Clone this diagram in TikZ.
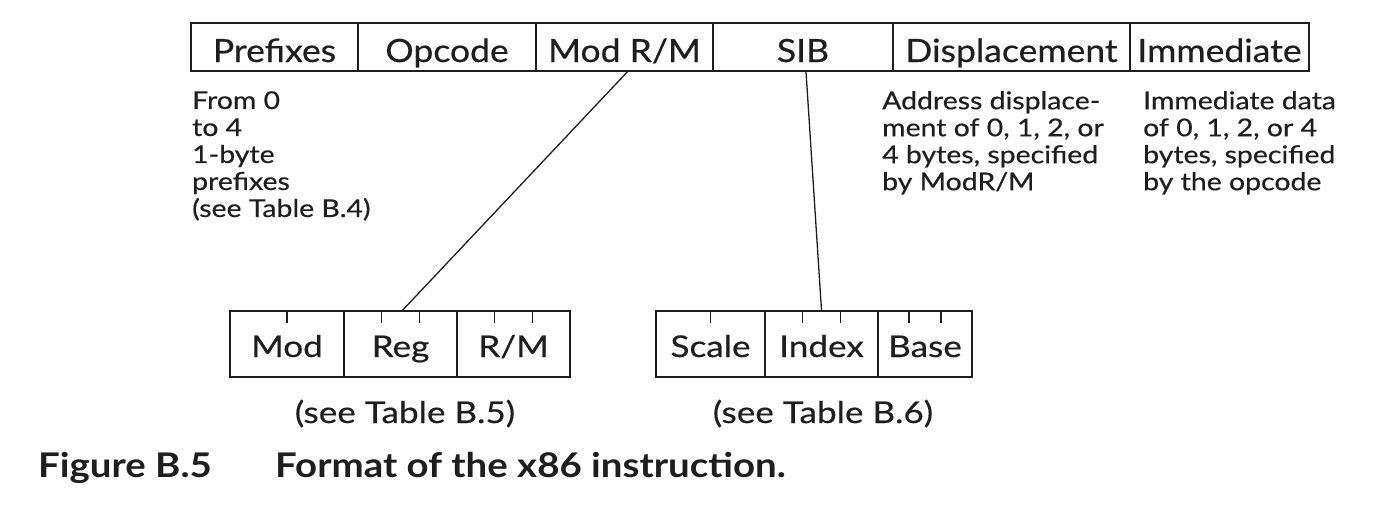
\documentclass[tikz,border=0pt]{standalone}
\usepackage{fontspec}
\setmainfont{Lato}
\newfontfamily\fieldfont{Lato}[FakeStretch=1.11, FakeBold=0.5]
\newfontfamily\notefont{Lato}[FakeStretch=1.16, FakeBold=0.5]
\newfontfamily\subfont{Lato}[FakeStretch=1.17, FakeBold=0.5]
\newfontfamily\capfont{Lato}[FakeStretch=1.13]
\usetikzlibrary{calc}
\definecolor{ink}{HTML}{1E1E1E}
\tikzset{
  field/.style={draw=ink, line width=1.4pt, minimum height=48pt, inner sep=0pt,
    text height=30pt, text depth=0pt, font=\fieldfont\fontsize{32}{38}\selectfont, text=ink},
  subfield/.style={draw=ink, line width=1.4pt, minimum height=66pt, inner sep=0pt,
    text height=26pt, text depth=0pt, font=\subfont\fontsize{30}{36}\selectfont, text=ink},
  note/.style={align=left, inner sep=0pt, anchor=north west, text=ink,
    font=\notefont\fontsize{24.5}{27}\selectfont},
  seetab/.style={inner sep=0pt, anchor=base, text=ink, font=\subfont\fontsize{30}{36}\selectfont},
  conn/.style={draw=ink, line width=1.3pt},
  bittick/.style={draw=ink, line width=1.3pt},
  captext/.style={inner sep=0pt, anchor=base west, text=ink, font=\capfont\bfseries\fontsize{34}{40}\selectfont}
}
\begin{document}
\begin{tikzpicture}[x=1pt,y=-1pt]
\useasboundingbox (0,0) rectangle (1376,514);
% top instruction format
\node[field, minimum width=167pt] (pre) at (274.5,47) {Prefixes};
\node[field, minimum width=178pt] (opc) at (447,47) {Opcode};
\node[field, minimum width=177pt] (modrm) at (624.5,47) {Mod R/M};
\node[field, minimum width=180pt] (sib) at (803,47) {SIB};
\node[field, minimum width=237pt] (disp) at (1011.5,47) {Displacement};
\node[field, minimum width=179pt] (imm) at (1219.5,47) {Immediate};
% notes
\node[note] (n1) at (192,91) {From 0\\to 4\\1-byte\\prefixes\\(see Table B.4)};
\node[note] (n2) at (882,91) {Address displace-\\ment of 0, 1, 2, or\\4 bytes, specified\\by ModR/M};
\node[note] (n3) at (1143,91) {Immediate data\\of 0, 1, 2, or 4\\bytes, specified\\by the opcode};
% ModR/M byte
\node[subfield, minimum width=114pt] (mod) at (287,344) {Mod};
\node[subfield, minimum width=113pt] (reg) at (400.5,344) {Reg};
\node[subfield, minimum width=113pt] (rm) at (513.5,344) {R/M};
% SIB byte
\node[subfield, minimum width=109pt] (scale) at (710.5,344) {Scale};
\node[subfield, minimum width=113pt] (index) at (821.5,344) {Index};
\node[subfield, minimum width=94pt] (base) at (925,344) {Base};
% bit ticks
\foreach \n/\f in {mod/0.5, reg/0.3333, reg/0.6667, rm/0.3333, rm/0.6667,
                   scale/0.5, index/0.3333, index/0.6667, base/0.3333, base/0.6667}{
  \draw[bittick] ($(\n.north west)!\f!(\n.north east)$) -- ++(0,13);
}
% connectors
\draw[conn] ([xshift=3pt]modrm.south) -- ([xshift=2pt]reg.north);
\draw[conn] ([xshift=3pt]sib.south) -- (index.north);
% table references
\node[seetab] (t5) at (405,423) {(see Table B.5)};
\node[seetab] (t6) at (823,423) {(see Table B.6)};
% caption
\node[captext] (fig) at (38,477) {Figure B.5};
\node[captext] (cpt) at (275,477) {Format of the x86 instruction.};
\end{tikzpicture}
\end{document}
